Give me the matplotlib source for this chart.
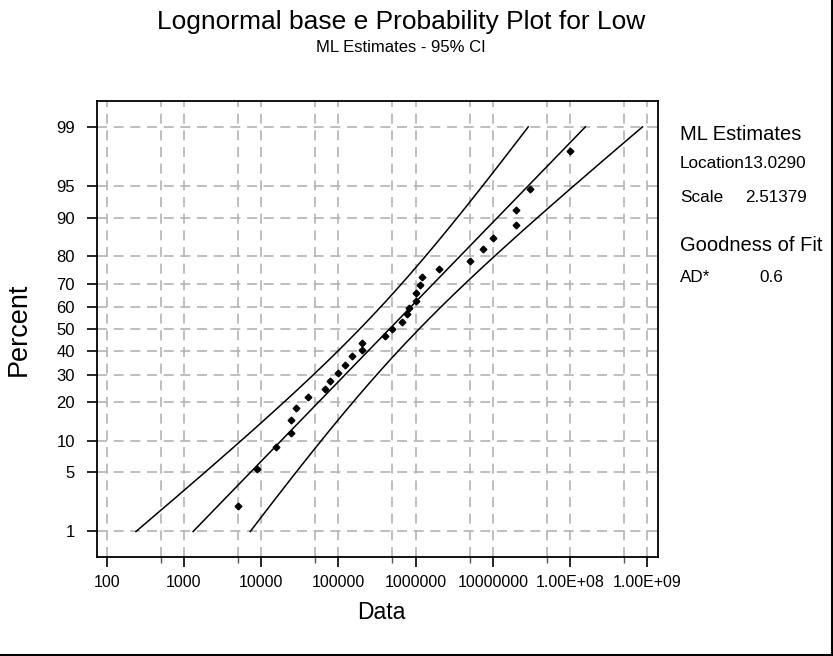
import numpy as np
import matplotlib
matplotlib.use("Agg")
import matplotlib.pyplot as plt
from matplotlib.lines import Line2D
from statistics import NormalDist

plt.rcParams['font.family'] = ['Liberation Sans', 'DejaVu Sans']

# ---- data ----
data_values = [5000, 8800, 15500, 24500, 24500, 28000, 40000, 67000, 77000, 100000,
               120000, 150000, 200000, 200000, 400000, 500000, 670000, 770000, 830000,
               1000000, 1000000, 1140000, 1200000, 2000000, 5000000, 7500000, 10000000,
               20000000, 20000000, 30000000, 100000000]
percent_values = [2.1, 5.45, 8.7, 11.6, 14.85, 18.1, 21.7, 24.5, 27.6, 30.75,
                  34.2, 37.8, 40.6, 43.6, 47.0, 50.1, 53.2, 56.9, 59.8, 62.7,
                  66.1, 69.4, 72.7, 75.65, 78.4, 82.2, 85.3, 88.4, 91.5, 94.6, 97.95]
location = 13.0290
scale = 2.51379
ad_stat = 0.6
y_ticks = [1, 5, 10, 20, 30, 40, 50, 60, 70, 80, 90, 95, 99]
x_major = [1e2, 1e3, 1e4, 1e5, 1e6, 1e7, 1e8, 1e9]
x_major_labels = ["100", "1000", "10000", "100000", "1000000", "10000000",
                  "1.00E+08", "1.00E+09"]
x_minor = [5e2, 5e3, 5e4, 5e5, 5e6, 5e7, 5e8]

nd = NormalDist()
_ppf = np.vectorize(lambda p: nd.inv_cdf(min(max(p / 100.0, 1e-9), 1 - 1e-9)),
                    otypes=[float])
_cdf = np.vectorize(lambda z: 100.0 * nd.cdf(z), otypes=[float])


def fwd(p):
    return _ppf(np.asarray(p, dtype=float))


def inv(z):
    return _cdf(np.asarray(z, dtype=float))


fig = plt.figure(figsize=(8.33, 6.56), dpi=100)
ax = fig.add_axes([0.1168, 0.1509, 0.6735, 0.6956])
ax.set_xscale('log')
ax.set_yscale('function', functions=(fwd, inv))
ax.set_xlim(75.5, 1.39e9)
ax.set_ylim(0.44, 99.57)

grid_kw = dict(color='#b4b4b4', lw=1.2, dashes=(6, 4), zorder=0)
for yt in y_ticks:
    ax.axhline(yt, **grid_kw)
for xt in x_major + x_minor:
    ax.axvline(xt, **grid_kw)

# fitted line and 95% CI bands
n = len(data_values)
zgrid = np.linspace(nd.inv_cdf(0.01), nd.inv_cdf(0.99), 200)
pgrid = inv(zgrid)
lnx = location + scale * zgrid
half = 1.96 * scale * np.sqrt((1 + zgrid ** 2 / 2) / n)
ax.plot(np.exp(lnx), pgrid, color='black', lw=1.1, zorder=2)
ax.plot(np.exp(lnx - half), pgrid, color='black', lw=1.1, zorder=2)
ax.plot(np.exp(lnx + half), pgrid, color='black', lw=1.1, zorder=2)

ax.plot(data_values, percent_values, linestyle='none', marker='D', ms=3.4,
        color='black', zorder=3)

ax.set_yticks(y_ticks)
ax.set_yticklabels([str(t) for t in y_ticks])
ax.yaxis.set_minor_locator(matplotlib.ticker.NullLocator())
ax.set_xticks(x_major)
ax.set_xticklabels(x_major_labels)
ax.set_xticks(x_minor, minor=True)
ax.xaxis.set_minor_formatter(matplotlib.ticker.NullFormatter())
ax.tick_params(axis='both', which='major', direction='out', length=7, width=1.2,
               color='black')
ax.tick_params(axis='x', which='major', labelsize=11.5, pad=6)
ax.tick_params(axis='y', which='major', labelsize=12, pad=9)
ax.tick_params(axis='x', which='minor', direction='out', length=4, width=1.0,
               color='#555555')
for s in ax.spines.values():
    s.set_linewidth(1.3)
    s.set_color('black')

ax.set_xlabel('Data', fontsize=16.5)
ax.xaxis.set_label_coords(0.5057, -0.097)
ax.set_ylabel('Percent', fontsize=19.5)
ax.yaxis.set_label_coords(-0.116, 0.5)

fig.text(0.481, 0.966, 'Lognormal base e Probability Plot for Low', ha='center',
         va='center', fontsize=19)
fig.text(0.481, 0.927, 'ML Estimates - 95% CI', ha='center', va='center', fontsize=12)

tx = 680 / 833
vx = 807 / 833
def ty(px):
    return 1 - px / 656
fig.text(tx, ty(134), 'ML Estimates', fontsize=14.5, va='center')
fig.text(tx, ty(164), f'Location{location:.4f}', fontsize=12.3, va='center')
fig.text(tx, ty(198), 'Scale', fontsize=12.3, va='center')
fig.text(vx, ty(198), f'{scale:.5f}', fontsize=12.3, va='center', ha='right')
fig.text(tx, ty(245), 'Goodness of Fit', fontsize=14.5, va='center')
fig.text(tx, ty(277), 'AD*', fontsize=12.3, va='center')
fig.text(759 / 833, ty(277), f'{ad_stat}', fontsize=12.3, va='center')

# figure frame on the right and bottom edges
fig.add_artist(Line2D([0, 1], [1.5 / 656, 1.5 / 656], transform=fig.transFigure,
                      color='black', lw=1.5))
fig.add_artist(Line2D([1 - 1.5 / 833, 1 - 1.5 / 833], [0, 1], transform=fig.transFigure,
                      color='black', lw=1.5))

fig.savefig('out.png', dpi=100)
